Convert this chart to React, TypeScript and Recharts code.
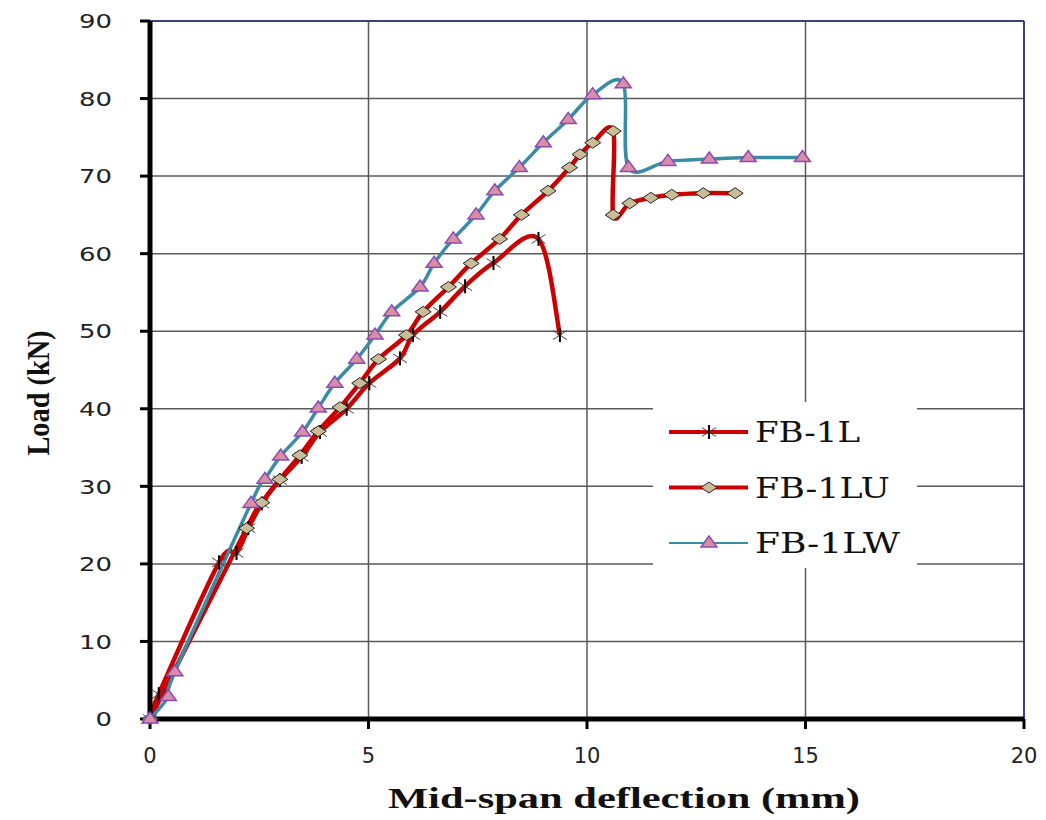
import {
  LineChart,
  Line,
  XAxis,
  YAxis,
  CartesianGrid,
  ReferenceLine,
  Legend,
} from "recharts";

// deflection (mm) / load (kN)
const fb1lDeflection = [0, 0.2, 1.58, 1.98, 2.25, 2.56, 2.97, 3.47, 3.89, 4.5, 5.02, 5.72, 6.02, 6.64, 7.21, 7.86, 8.89, 9.38];
const fb1lLoad = [0, 3.2, 20.2, 21.4, 24.6, 27.8, 30.8, 33.8, 37.0, 40.0, 43.3, 46.5, 49.5, 52.5, 55.8, 58.8, 61.9, 49.5];

const fb1luDeflection = [0, 2.21, 2.56, 2.97, 3.43, 3.85, 4.35, 4.8, 5.23, 5.87, 6.25, 6.83, 7.35, 8.0, 8.5, 9.11, 9.6, 9.84, 10.13, 10.6, 10.6, 10.98, 11.46, 11.94, 12.66, 13.39];
const fb1luLoad = [0, 24.6, 27.9, 30.9, 34.0, 37.1, 40.2, 43.3, 46.4, 49.5, 52.5, 55.7, 58.75, 61.9, 65.0, 68.1, 71.1, 72.8, 74.3, 75.8, 65.0, 66.5, 67.2, 67.6, 67.8, 67.8];

const fb1lwDeflection = [0, 0.42, 0.57, 2.31, 2.63, 2.99, 3.49, 3.85, 4.23, 4.73, 5.15, 5.53, 6.18, 6.5, 6.94, 7.46, 7.89, 8.45, 9.0, 9.57, 10.13, 10.83, 10.95, 11.85, 12.8, 13.69, 14.93];
const fb1lwLoad = [0, 2.9, 6.1, 27.8, 30.9, 33.9, 37.0, 40.1, 43.3, 46.4, 49.5, 52.5, 55.7, 58.75, 61.9, 65.0, 68.1, 71.1, 74.3, 77.3, 80.5, 81.9, 71.1, 71.9, 72.2, 72.4, 72.4];

const xTicks = [0, 5, 10, 15, 20];
const yTicks = [0, 10, 20, 30, 40, 50, 60, 70, 80, 90];

const toPoints = (xs: number[], ys: number[]) => xs.map((x, i) => ({ x, y: ys[i] }));

// excel-style smoothed line (catmull-rom through every point)
const excelSmooth = (context: any) => {
  let pts: [number, number][] = [];
  return {
    areaStart() {},
    areaEnd() {},
    lineStart() {
      pts = [];
    },
    point(x: number, y: number) {
      pts.push([+x, +y]);
    },
    lineEnd() {
      if (!pts.length) return;
      context.moveTo(pts[0][0], pts[0][1]);
      for (let i = 0; i < pts.length - 1; i++) {
        const p0 = pts[i - 1] || pts[i];
        const p1 = pts[i];
        const p2 = pts[i + 1];
        const p3 = pts[i + 2] || p2;
        const t = 1 / 6;
        context.bezierCurveTo(
          p1[0] + (p2[0] - p0[0]) * t,
          p1[1] + (p2[1] - p0[1]) * t,
          p2[0] - (p3[0] - p1[0]) * t,
          p2[1] - (p3[1] - p1[1]) * t,
          p2[0],
          p2[1]
        );
      }
    },
  };
};

const Asterisk = ({ cx, cy }: { cx: number; cy: number }) => (
  <g>
    <line x1={cx - 7} y1={cy - 4.5} x2={cx + 7} y2={cy + 4.5} stroke="#444" strokeWidth={1} />
    <line x1={cx - 7} y1={cy + 4.5} x2={cx + 7} y2={cy - 4.5} stroke="#444" strokeWidth={1} />
    <line x1={cx} y1={cy - 7} x2={cx} y2={cy + 7} stroke="#000" strokeWidth={2} />
  </g>
);

const Diamond = ({ cx, cy }: { cx: number; cy: number }) => (
  <polygon
    points={`${cx - 8},${cy} ${cx},${cy - 5.5} ${cx + 8},${cy} ${cx},${cy + 5.5}`}
    fill="#c9bc96"
    stroke="#222"
    strokeWidth={1}
  />
);

const Triangle = ({ cx, cy }: { cx: number; cy: number }) => (
  <polygon
    points={`${cx},${cy - 7} ${cx - 8},${cy + 4} ${cx + 8},${cy + 4}`}
    fill="#d98ea6"
    stroke="#8a4cb4"
    strokeWidth={1.5}
  />
);

const series = [
  { name: "FB-1L", data: toPoints(fb1lDeflection, fb1lLoad), color: "#cc0000", width: 4.5, legendWidth: 4, Marker: Asterisk, textLen: 105 },
  { name: "FB-1LU", data: toPoints(fb1luDeflection, fb1luLoad), color: "#cc0000", width: 4.5, legendWidth: 4, Marker: Diamond, textLen: 135 },
  { name: "FB-1LW", data: toPoints(fb1lwDeflection, fb1lwLoad), color: "#3a8ca6", width: 3.5, legendWidth: 2, Marker: Triangle, textLen: 145 },
];

const LegendBox = () => (
  <div style={{ width: 264, height: 166, background: "#fff" }}>
    <svg width={264} height={166}>
      {series.map((s, i) => {
        const cy = 30 + i * 55.5;
        return (
          <g key={s.name}>
            <line x1={16} y1={cy} x2={95} y2={cy} stroke={s.color} strokeWidth={s.legendWidth} />
            <s.Marker cx={56} cy={cy} />
            <text
              x={102}
              y={cy + 10}
              fontFamily="'DejaVu Serif', serif"
              fontSize={27}
              fill="#111"
              textLength={s.textLen}
              lengthAdjust="spacingAndGlyphs"
            >
              {s.name}
            </text>
          </g>
        );
      })}
    </svg>
  </div>
);

const YTick = ({ x, y, payload }: any) => {
  const label = String(payload.value);
  return (
    <text
      x={x}
      y={y}
      dy="0.36em"
      textAnchor="end"
      fontFamily="'DejaVu Sans', sans-serif"
      fontSize={20}
      fill="#222"
      textLength={16.5 * label.length}
      lengthAdjust="spacingAndGlyphs"
    >
      {label}
    </text>
  );
};

const XTitle = () => (
  <text
    x={616}
    y={800}
    textAnchor="middle"
    fontFamily="'Liberation Serif', serif"
    fontWeight="bold"
    fontSize={30}
    fill="#111"
    textLength={472}
    lengthAdjust="spacingAndGlyphs"
  >
    Mid-span deflection (mm)
  </text>
);

const YTitle = () => (
  <text
    x={41}
    y={385}
    transform="rotate(-90, 41, 385)"
    textAnchor="middle"
    fontFamily="'Liberation Serif', serif"
    fontWeight="bold"
    fontSize={32}
    fill="#111"
    textLength={125}
    lengthAdjust="spacingAndGlyphs"
  >
    Load (kN)
  </text>
);

const App = () => {
  return (
    <div style={{ width: 1038, height: 812, position: "relative" }}>
      <LineChart width={1038} height={812} margin={{ top: 13, right: 22, bottom: 0, left: 0 }}>
        <CartesianGrid stroke="#5a5a5a" strokeWidth={1.5} />
        <XAxis
          type="number"
          dataKey="x"
          domain={[0, 20]}
          ticks={xTicks}
          height={101}
          axisLine={{ stroke: "#000", strokeWidth: 5 }}
          tickLine={{ stroke: "#000", strokeWidth: 3 }}
          tickSize={10}
          tickMargin={19}
          tick={{ fontFamily: "'DejaVu Sans', sans-serif", fontSize: 21, fill: "#222" }}
          label={<XTitle />}
        />
        <YAxis
          type="number"
          dataKey="y"
          domain={[0, 90]}
          ticks={yTicks}
          width={142}
          axisLine={{ stroke: "#000", strokeWidth: 5 }}
          tickLine={{ stroke: "#000", strokeWidth: 3 }}
          tickSize={10}
          tickMargin={28}
          tick={<YTick />}
          label={<YTitle />}
        />
        <ReferenceLine y={90} stroke="#1f2f78" strokeWidth={1.5} />
        <ReferenceLine x={20} stroke="#1f2f78" strokeWidth={1.5} />
        {series.map((s) => (
          <Line
            key={s.name}
            name={s.name}
            data={s.data}
            dataKey="y"
            type={excelSmooth as any}
            stroke={s.color}
            strokeWidth={s.width}
            dot={(p: any) => <s.Marker key={`${s.name}-${p.index}`} cx={p.cx} cy={p.cy} />}
            activeDot={false}
            isAnimationActive={false}
          />
        ))}
        <Legend
          layout="horizontal"
          verticalAlign="middle"
          align="center"
          content={<LegendBox />}
          wrapperStyle={{ position: "absolute", left: 645, top: 394, width: 264, height: 166 }}
        />
      </LineChart>
    </div>
  );
};

export default App;
